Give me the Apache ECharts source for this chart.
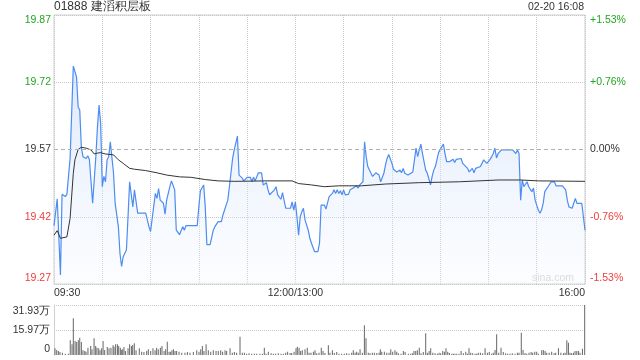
<!DOCTYPE html>
<html><head><meta charset="utf-8">
<script src="https://cdn.jsdelivr.net/npm/echarts@6/dist/echarts.min.js"></script>
<style>html,body{margin:0;padding:0;background:#fff}#c{width:640px;height:360px}</style>
</head><body><div id="c"></div>
<script>
// ---- data (minutes since 09:30 on the trading clock; lunch break removed) ----
const title = '01888 建滔积层板';
const stamp = '02-20 16:08';
const prevClose = 19.57;
const xTickMinute = [0, 150, 330];
const xTickLabel = ['09:30', '12:00/13:00', '16:00'];
const leftLabels = ['19.27', '19.42', '19.57', '19.72', '19.87'];
const rightLabels = ['-1.53%', '-0.76%', '0.00%', '+0.76%', '+1.53%'];
const volLabels = ['0', '15.97万', '31.93万'];

const priceMinute = [0,2,3,4,5,7,8,10,11,12,14,15,16,17,18,19,20,21,22,24,26,27,28,29,30,31,32,33,34,35,37,38,40,41,42,43,45,46,47,48,49,50,51,52,57,59,60,63,64,65,66,68,69,70,72,73,75,76,78,80,81,82,83,89,90,91,92,93,94,95,97,99,100,102,104,105,106,108,109,111,112,114,115,117,118,120,122,123,124,125,127,129,130,132,133,134,135,137,138,139,140,141,142,144,147,148,149,150,151,152,153,154,155,156,158,159,160,162,164,165,166,168,169,171,173,174,175,176,177,178,179,180,181,183,184,186,187,188,189,190,191,192,193,194,195,196,197,198,200,201,202,203,204,205,206,207,208,209,210,211,213,214,215,216,217,218,219,220,221,223,224,225,226,227,228,229,231,232,233,234,235,236,237,238,239,240,241,242,243,244,245,246,247,248,249,250,251,253,254,255,257,258,260,261,262,263,265,266,267,268,269,271,272,273,274,275,276,277,278,285,287,288,289,290,291,292,293,294,295,296,297,298,299,300,301,302,303,304,305,306,307,309,311,312,316,318,319,320,321,322,323,324,325,328,329,330];
const price = [19.40,19.46,19.46,19.29,19.47,19.465,19.47,19.55,19.554,19.756,19.732,19.665,19.658,19.575,19.554,19.558,19.55,19.556,19.547,19.45,19.554,19.62,19.669,19.628,19.487,19.51,19.498,19.547,19.554,19.587,19.517,19.45,19.398,19.338,19.309,19.331,19.346,19.42,19.498,19.502,19.442,19.48,19.48,19.428,19.428,19.398,19.387,19.472,19.461,19.483,19.457,19.45,19.426,19.457,19.487,19.50,19.48,19.39,19.38,19.398,19.39,19.40,19.40,19.40,19.442,19.478,19.478,19.491,19.442,19.358,19.358,19.39,19.398,19.409,19.409,19.424,19.435,19.457,19.487,19.55,19.569,19.60,19.513,19.506,19.50,19.508,19.508,19.498,19.508,19.50,19.518,19.518,19.491,19.496,19.48,19.469,19.47,19.48,19.487,19.469,19.467,19.459,19.474,19.439,19.439,19.453,19.435,19.453,19.42,19.379,19.42,19.431,19.439,19.413,19.39,19.372,19.361,19.342,19.342,19.361,19.446,19.446,19.437,19.465,19.472,19.48,19.472,19.48,19.472,19.478,19.469,19.48,19.469,19.47,19.48,19.484,19.48,19.489,19.484,19.491,19.491,19.498,19.587,19.554,19.532,19.53,19.517,19.51,19.518,19.52,19.513,19.498,19.498,19.517,19.535,19.55,19.559,19.556,19.539,19.526,19.52,19.52,19.524,19.518,19.528,19.517,19.52,19.513,19.517,19.52,19.547,19.573,19.554,19.569,19.582,19.561,19.524,19.517,19.513,19.491,19.51,19.524,19.532,19.532,19.563,19.57,19.573,19.582,19.561,19.543,19.541,19.543,19.541,19.548,19.541,19.548,19.546,19.55,19.539,19.543,19.528,19.52,19.528,19.518,19.528,19.524,19.532,19.539,19.547,19.548,19.539,19.548,19.554,19.561,19.573,19.551,19.561,19.561,19.569,19.569,19.561,19.569,19.561,19.457,19.502,19.487,19.491,19.498,19.487,19.491,19.476,19.484,19.457,19.446,19.435,19.428,19.435,19.45,19.476,19.48,19.487,19.498,19.498,19.489,19.489,19.48,19.457,19.442,19.446,19.439,19.45,19.461,19.45,19.45,19.45,19.39];

const avgMinute = [0,2,4,8,10,11,12,13,15,17,20,23,25,27,29,32,37,40,43,47,50,57,64,70,78,85,94,102,112,133,148,152,160,168,177,191,206,227,252,276,290,301,330];
const avgPrice = [19.379,19.389,19.372,19.375,19.416,19.42,19.517,19.547,19.57,19.575,19.573,19.569,19.56,19.562,19.563,19.56,19.558,19.547,19.539,19.528,19.526,19.523,19.518,19.513,19.509,19.508,19.503,19.50,19.499,19.50,19.50,19.494,19.491,19.487,19.489,19.489,19.493,19.496,19.498,19.502,19.502,19.50,19.499];

const volMinute = [0.6,1.7,2.7,3.7,5.2,7.0,8.9,10.1,11.2,12.0,13.1,14.1,15.1,16.0,17.0,18.0,19.1,19.9,21.1,22.8,23.6,24.9,25.9,26.7,27.8,28.6,29.6,30.5,31.5,33.1,34.2,35.4,36.7,37.3,38.3,39.4,40.2,41.2,41.8,42.7,43.5,44.5,46.0,47.0,48.1,48.9,49.9,51.0,53.0,54.5,55.9,57.6,58.6,60.1,61.5,62.8,63.8,64.8,66.1,67.1,68.4,69.4,70.4,71.5,72.5,73.3,74.2,75.2,76.2,77.7,79.4,81.4,82.9,84.5,86.6,88.7,90.1,91.2,92.2,93.2,94.5,95.9,97.4,99.0,100.7,102.1,103.6,104.8,106.3,107.3,109.4,110.8,112.1,113.5,115.6,117.0,118.3,119.7,121.2,122.9,124.5,126.0,128.0,129.5,130.7,131.8,133.2,134.9,136.3,137.8,139.4,141.1,142.5,144.0,145.2,146.7,147.7,149.2,150.4,151.2,152.3,153.3,154.3,156.0,157.4,158.5,159.7,161.2,162.2,163.3,164.7,166.1,167.2,168.4,170.5,171.5,173.0,174.2,175.7,177.1,178.8,180.4,181.9,183.3,185.0,186.0,187.1,188.1,189.1,190.2,191.6,192.9,193.9,195.3,196.4,197.8,199.1,200.6,202.0,202.8,203.7,205.3,206.8,208.2,209.3,210.5,211.9,213.0,214.0,215.7,217.1,218.2,220.2,221.7,222.7,223.7,224.8,225.8,227.0,228.1,229.5,231.0,232.0,233.1,234.1,235.4,236.8,238.2,239.3,240.3,241.6,242.6,243.6,244.7,245.7,247.2,248.2,249.2,250.3,251.7,253.0,254.4,255.9,256.9,257.9,259.0,260.2,261.7,262.7,263.7,265.0,266.4,267.9,269.3,270.5,272.0,273.0,274.1,275.1,276.4,277.8,279.2,280.7,282.0,283.4,284.8,286.5,288.0,289.0,290.4,291.5,292.7,293.8,295.2,296.5,297.5,298.8,300.0,301.0,303.1,304.1,305.2,306.2,307.7,309.3,310.8,311.8,313.5,315.0,316.6,317.6,318.7,319.7,320.7,321.7,322.8,323.8,324.9,325.9,326.9,328.4,329.8];
const volume = [4.26,3.19,2.55,1.92,1.49,0.85,0.85,9.37,6.81,23.42,8.94,8.30,9.37,11.07,8.30,2.98,2.55,2.13,4.68,5.75,3.62,10.64,5.75,4.68,4.26,2.98,4.26,8.94,3.19,5.11,4.26,4.68,6.17,5.32,6.81,6.81,5.75,4.68,3.41,3.62,5.11,2.55,4.26,6.81,5.75,6.39,7.45,2.98,4.26,2.13,1.92,2.55,3.62,2.55,4.26,2.98,4.68,3.62,4.68,5.75,2.55,3.62,8.51,2.13,2.13,2.98,3.62,2.55,2.55,2.13,1.49,1.49,1.92,1.49,1.92,2.98,2.13,3.62,5.75,2.55,6.81,2.98,2.13,2.98,2.55,2.55,2.98,2.13,2.98,2.55,4.26,1.49,1.92,1.49,11.71,1.49,1.49,0.85,1.06,0.85,0.85,0.85,0.85,0.85,4.68,0.85,2.13,1.06,0.85,0.85,1.06,0.85,0.85,1.49,2.13,1.28,1.28,2.13,4.26,5.32,4.68,2.55,2.98,3.62,4.68,1.49,1.49,2.13,2.98,1.06,1.49,4.68,2.55,1.28,6.17,1.49,2.98,1.28,1.92,0.85,0.85,0.85,1.06,0.85,1.49,2.98,1.49,2.13,1.49,3.62,1.49,18.95,10.64,1.49,1.06,1.49,1.49,1.28,1.49,3.62,2.13,2.13,1.49,1.49,3.62,2.13,2.98,2.13,1.06,0.85,2.55,1.92,0.85,0.85,1.06,2.55,2.55,2.98,4.68,1.06,1.92,13.84,1.49,2.55,4.26,1.49,1.06,0.85,1.49,1.06,2.55,2.13,4.26,2.13,1.28,0.85,0.85,0.85,0.85,0.85,2.55,1.06,2.13,0.85,4.26,1.49,1.06,0.85,0.85,1.49,1.49,1.06,4.26,1.49,1.92,0.85,1.49,3.19,13.20,1.49,4.68,1.92,1.06,0.85,0.85,1.06,0.85,1.49,1.49,14.26,3.19,1.28,0.85,1.49,1.92,1.49,2.13,2.13,0.85,2.98,3.19,2.55,1.49,1.49,2.13,1.06,1.49,4.26,1.49,1.06,1.49,9.37,7.88,1.49,1.06,1.49,2.55,2.55,2.55,1.49,4.04,31.93];

// ---- chart ----
const GREEN = '#22a622', RED = '#f03c3c', DARK = '#333', FS = 10.5;
const toCents = p => +((p - prevClose) * 100).toFixed(3);
const priceData = priceMinute.map((m, i) => [m, toCents(price[i])]);
const avgData = avgMinute.map((m, i) => [m, toCents(avgPrice[i])]);
const volData = volMinute.map((m, i) => [m, volume[i]]);
const volStep = 15.965;

const rich = {
  gt: {color: GREEN, fontSize: FS, padding: [11, 0, 0, 0]},
  gm: {color: GREEN, fontSize: FS},
  nm: {color: DARK, fontSize: FS},
  rm: {color: RED, fontSize: FS},
  rb: {color: RED, fontSize: FS, padding: [0, 0, 11, 0]}
};
function yFmt(labels) {
  return function (v) {
    const i = Math.round((v + 30) / 15);
    const c = i > 2 ? 'g' : (i < 2 ? 'r' : 'n');
    const s = i === 4 ? 't' : (i === 0 ? 'b' : 'm');
    return '{' + c + s + '|' + labels[i] + '}';
  };
}

const chart = echarts.init(document.getElementById('c'), null, {renderer: 'canvas'});
chart.setOption({
  animation: false,
  textStyle: {fontFamily: 'Liberation Sans, Arial, sans-serif'},
  title: [
    {text: title, left: 54, top: 1, padding: 0, textStyle: {fontSize: 12, fontWeight: 'normal', color: DARK}},
    {text: stamp, right: 56, top: 2, padding: 0, textStyle: {fontSize: FS, fontWeight: 'normal', color: DARK}}
  ],
  graphic: [{type: 'text', left: 532, top: 273, silent: true,
    style: {text: 'sina.com', fill: '#d4d4d4', font: '10.5px Liberation Sans, Arial, sans-serif'}}],
  grid: [
    {left: 54, right: 55, top: 15, height: 269, containLabel: false, show: true, borderColor: '#cfcfcf', borderWidth: 1},
    {left: 54, right: 55, top: 305, height: 50, containLabel: false}
  ],
  xAxis: [
    {type: 'value', gridIndex: 0, min: 0, max: 330, interval: 30,
      axisLine: {show: false}, axisTick: {show: false},
      splitLine: {show: true, lineStyle: {type: 'dotted', color: '#c8c8c8'}},
      axisLabel: {show: true, margin: 4, fontSize: FS, color: DARK, showMinLabel: true, showMaxLabel: true,
        alignMinLabel: 'left', alignMaxLabel: 'right',
        formatter: v => { const i = xTickMinute.indexOf(v); return i >= 0 ? xTickLabel[i] : ''; }}},
    {type: 'value', gridIndex: 1, min: 0, max: 330, interval: 30,
      axisLine: {show: false}, axisTick: {show: false}, splitLine: {show: false}, axisLabel: {show: false}}
  ],
  yAxis: [
    {type: 'value', gridIndex: 0, min: -30, max: 30, interval: 15, position: 'left',
      axisLine: {show: false}, axisTick: {show: false},
      splitLine: {show: true, lineStyle: {type: 'dotted', color: ['#c8c8c8', '#c8c8c8', 'rgba(0,0,0,0)', '#c8c8c8', '#c8c8c8']}},
      axisLabel: {margin: 3, fontSize: FS, formatter: yFmt(leftLabels), rich: rich}},
    {type: 'value', gridIndex: 0, min: -30, max: 30, interval: 15, position: 'right',
      axisLine: {show: false}, axisTick: {show: false}, splitLine: {show: false},
      axisLabel: {margin: 5, fontSize: FS, formatter: yFmt(rightLabels), rich: rich}},
    {type: 'value', gridIndex: 1, min: 0, max: 31.93, interval: volStep, position: 'left',
      axisLine: {show: true, lineStyle: {color: '#cfcfcf'}}, axisTick: {show: false},
      splitLine: {show: true, lineStyle: {type: 'dotted', color: ['rgba(0,0,0,0)', '#c8c8c8', '#c8c8c8']}},
      axisLabel: {margin: 4, fontSize: FS,
        formatter: v => { const i = Math.round(v / volStep); const s = i === 2 ? 't' : (i === 0 ? 'b' : 'm'); return '{n' + s + '|' + volLabels[i] + '}'; },
        rich: {
          nt: {color: DARK, fontSize: FS, padding: [12, 0, 0, 0]},
          nm: {color: DARK, fontSize: FS},
          nb: {color: DARK, fontSize: FS, padding: [0, 0, 12, 0]}
        }}}
  ],
  series: [
    {type: 'line', xAxisIndex: 0, yAxisIndex: 0, data: priceData, showSymbol: false, symbol: 'none',
      lineStyle: {color: '#4d8cf0', width: 1.2},
      areaStyle: {origin: 'start', color: new echarts.graphic.LinearGradient(0, 0, 0, 1, [
        {offset: 0, color: 'rgba(190,212,248,0.75)'}, {offset: 1, color: 'rgba(240,245,254,0.35)'}])},
      markLine: {silent: true, symbol: 'none', label: {show: false},
        lineStyle: {type: [4, 3], color: '#b0b0b0', width: 1}, data: [{yAxis: 0}]},
      z: 3},
    {type: 'line', xAxisIndex: 0, yAxisIndex: 0, data: avgData, showSymbol: false, symbol: 'none',
      lineStyle: {color: '#333', width: 1}, z: 4},
    {type: 'bar', xAxisIndex: 1, yAxisIndex: 2, data: volData, barWidth: 1,
      itemStyle: {color: '#666'}}
  ]
});
</script></body></html>
